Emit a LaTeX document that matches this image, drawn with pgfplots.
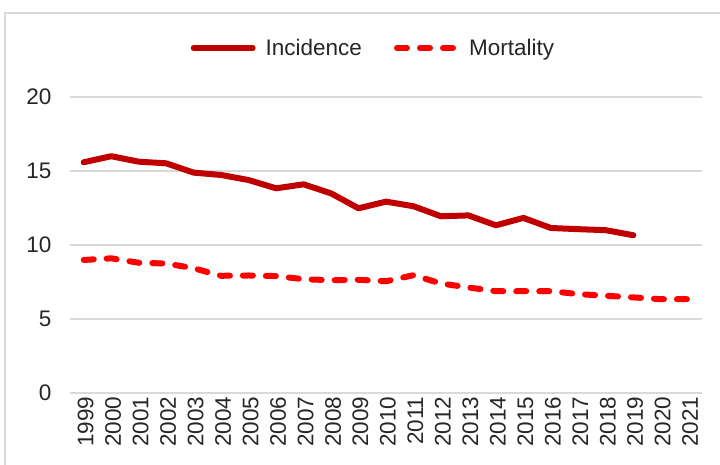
\documentclass[border=0pt]{standalone}
\usepackage{pgfplots}
\pgfplotsset{compat=1.18}
\usepackage{fontspec}
\setmainfont{Liberation Sans}
\definecolor{inc}{HTML}{C00000}
\definecolor{mort}{HTML}{FF0000}
\definecolor{gridc}{HTML}{D9D9D9}
\begin{document}
\begin{tikzpicture}[x=1pt,y=1pt]
\useasboundingbox (0,0) rectangle (720,464);
\draw[gridc, line width=1.2pt] (5,451) rectangle (740,-20);
\begin{axis}[
  at={(70pt,71pt)}, anchor=south west, scale only axis,
  width=632pt, height=296pt,
  xmin=1998.5, xmax=2021.5, ymin=0, ymax=20,
  xtick={1999,...,2021}, ytick={0,5,10,15,20},
  xticklabel style={rotate=90, anchor=east, xshift=0pt, yshift=-2pt},
  yticklabel style={xshift=-15pt},
  /pgf/number format/1000 sep={},
  /pgf/number format/assume math mode=true,
  ymajorgrids, grid style={gridc, line width=1.5pt},
  axis line style={draw=none}, major tick style={draw=none},
  tick label style={font=\fontsize{22.5}{27}\selectfont, text=black!85},
  legend columns=2,
  legend style={at={(0.48,1.1655)}, anchor=center, draw=none, fill=none,
    font=\fontsize{22.5}{27}\selectfont, text=black!85,
    /tikz/every even column/.append style={column sep=30pt}},
  legend image code/.code={\draw[#1] (3pt,0pt) -- (62pt,0pt); \path (70pt,0pt);},
  clip=false,
]
\addplot[inc, line width=6pt, line join=round, line cap=round] coordinates {
(1999,15.59) (2000,16.0) (2001,15.63) (2002,15.52) (2003,14.89) (2004,14.73)
(2005,14.39) (2006,13.83) (2007,14.1) (2008,13.49) (2009,12.48) (2010,12.93)
(2011,12.62) (2012,11.94) (2013,12.0) (2014,11.33) (2015,11.83) (2016,11.15)
(2017,11.07) (2018,11.0) (2019,10.66)};
\addlegendentry{Incidence}
\addplot[mort, line width=6pt, line join=round, line cap=round, dash pattern=on 10pt off 13pt] coordinates {
(1999,8.99) (2000,9.1) (2001,8.8) (2002,8.75) (2003,8.43) (2004,7.92)
(2005,7.94) (2006,7.9) (2007,7.69) (2008,7.62) (2009,7.65) (2010,7.55)
(2011,7.96) (2012,7.4) (2013,7.13) (2014,6.88) (2015,6.88) (2016,6.88)
(2017,6.68) (2018,6.57) (2019,6.46) (2020,6.34) (2021,6.34)};
\addlegendentry{Mortality}
\end{axis}
\end{tikzpicture}
\end{document}
